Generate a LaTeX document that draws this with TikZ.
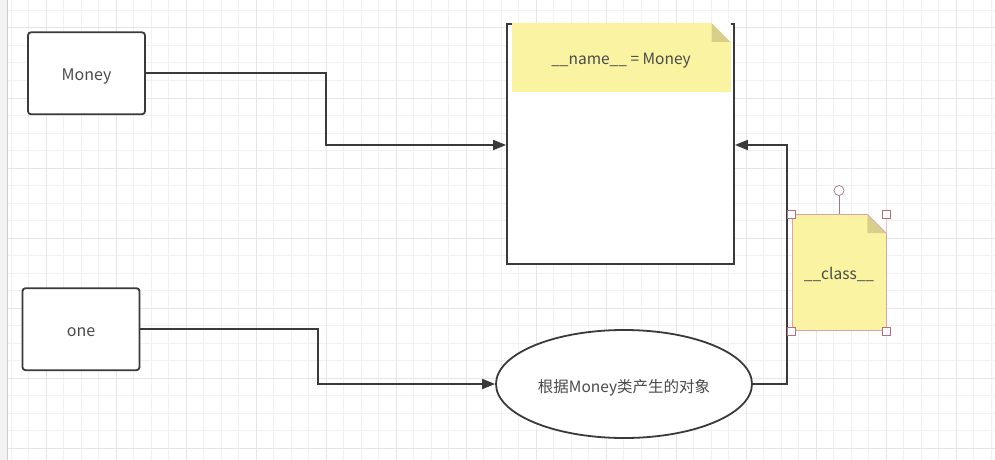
\documentclass[tikz,border=0pt]{standalone}
\usepackage{fontspec}
\setmainfont{Noto Sans CJK SC}
\usetikzlibrary{arrows.meta,shapes.geometric,calc}
\definecolor{gridminor}{HTML}{F1F1F1}
\definecolor{gridmajor}{HTML}{E6E6E6}
\definecolor{ink}{HTML}{3A3A3A}
\definecolor{txt}{HTML}{4A4A4A}
\definecolor{noteyellow}{HTML}{FAF3A2}
\definecolor{notefold}{HTML}{D8D08A}
\definecolor{selpink}{HTML}{D9A3AC}
\definecolor{handle}{HTML}{B07080}
\tikzset{
  box/.style={draw=ink, line width=1.8pt, rounded corners=3pt, fill=white,
    minimum width=117pt, minimum height=82pt, text=txt, font=\fontsize{16}{18}\selectfont,
    text height=14.5pt, text depth=0pt},
  bigrect/.style={draw=ink, line width=1.8pt, fill=white, minimum width=227pt, minimum height=240pt},
  oval/.style={ellipse, draw=ink, line width=1.8pt, fill=white, minimum width=256pt,
    minimum height=108pt, text=txt, font=\fontsize{15.5}{18}\selectfont, inner sep=0pt,
    text height=17pt, text depth=0pt},
  note/.style={fill=noteyellow, inner sep=0pt, text=txt, font=\fontsize{15.5}{18}\selectfont,
    text height=14.5pt, text depth=0pt},
  conn/.style={draw=ink, line width=1.8pt},
  arrow/.style={conn, -{Triangle[length=13pt,width=10pt]}},
  handlebox/.style={draw=handle, line width=0.7pt, fill=white, minimum size=8pt, inner sep=0pt},
}
\begin{document}
\begin{tikzpicture}[x=1pt,y=-1pt]
\useasboundingbox (0,0) rectangle (995,460);
\fill[white] (0,0) rectangle (995,460);
% grid
\foreach \x in {11,28.5,...,995} \draw[gridminor, line width=1pt] (\x,0) -- (\x,460);
\foreach \y in {10.5,28,...,460} \draw[gridminor, line width=1pt] (0,\y) -- (995,\y);
\foreach \x in {46,116,...,995} \draw[gridmajor, line width=1pt] (\x,0) -- (\x,460);
\foreach \y in {28,98,...,460} \draw[gridmajor, line width=1pt] (0,\y) -- (995,\y);
% left panel edge
\fill[white!95!black] (0,0) rectangle (7,460);
\draw[white!80!black, line width=1pt] (7,0) -- (7,460);

% nodes
\node[box] (money) at (86.5,73.3) {Money};
\node[box] (one) at (81,329.2) {one};
\node[bigrect] (rect) at (620.5,144) {};
\node[oval] (obj) at (624,384) {根据Money类产生的对象};

% name note
\node[note, minimum width=219pt, minimum height=69pt] (namenote) at (621,57.5) {\_\_name\_\_ = Money};
\fill[notefold] (namenote.north east) ++(-19,0) -- ++(0,19) -- ++(19,0) -- cycle;
\fill[white] (namenote.north east) ++(-19,0) -- ++(19,19) -- ++(0,-19.5) -- cycle;

% connectors
\coordinate (b1) at (326,145);
\draw[arrow] (money.east) -| (b1) -- (rect.west |- b1);
\coordinate (b2) at (318,384);
\draw[arrow] (one.east) -| (b2) -- (obj.west);
\coordinate (b3) at (787,145);
\draw[arrow] (obj.east) -| (b3) -- (rect.east |- b3);

% class note (selected)
\node[note, draw=selpink, line width=0.7pt, minimum width=94pt, minimum height=116pt] (classnote) at (839,272.5) {\_\_class\_\_};
\fill[notefold] (classnote.north east) ++(-19,0) -- ++(0,19) -- ++(19,0) -- cycle;
\fill[white] (classnote.north east) ++(-19,0) -- ++(19,19) -- ++(0,-19) -- cycle;
\draw[selpink, line width=0.7pt] (classnote.north east) ++(-19,0) -- ++(19,19);
\node[handlebox] (h1) at (classnote.north west) {};
\node[handlebox] (h2) at (classnote.north east) {};
\node[handlebox] (h3) at (classnote.south west) {};
\node[handlebox] (h4) at (classnote.south east) {};
\node[circle, draw=handle, line width=0.7pt, fill=white, minimum size=10pt, inner sep=0pt] (rot) at (839,190.5) {};
\draw[handle, line width=0.7pt] (rot.south) -- (classnote.north);
\end{tikzpicture}
\end{document}
